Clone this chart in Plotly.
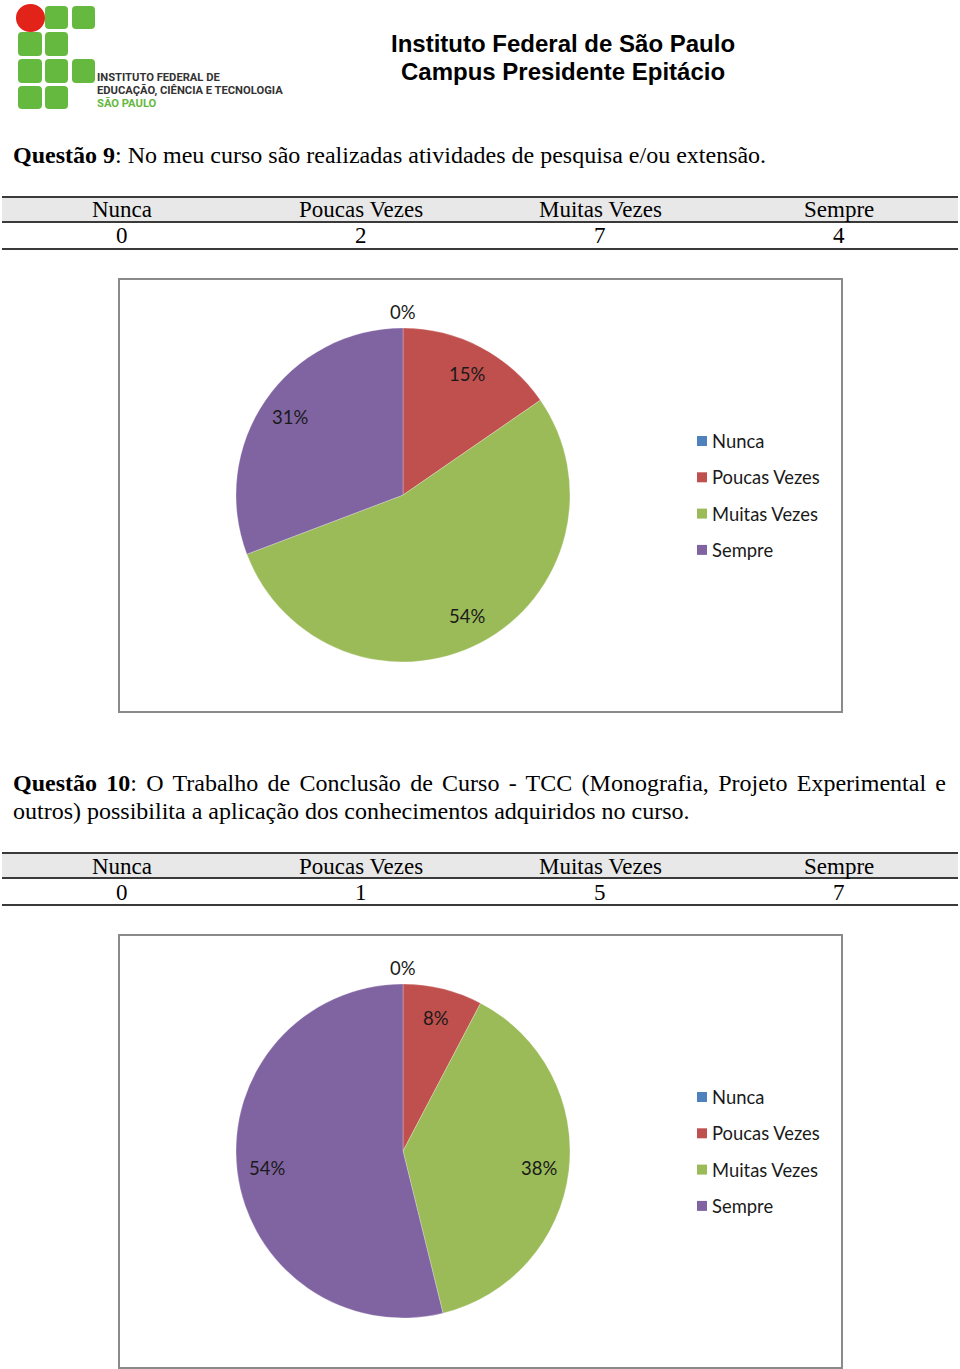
import math
import plotly.graph_objects as go

W, H = 960, 1369

# ---------------- data ----------------
categories = ["Nunca", "Poucas Vezes", "Muitas Vezes", "Sempre"]
q9_values = [0, 2, 7, 4]
q10_values = [0, 1, 5, 7]
slice_colors = ["#4F81BD", "#C0504D", "#9BBB59", "#8064A2"]

header_lines = ["Instituto Federal de São Paulo", "Campus Presidente Epitácio"]
logo_lines = ["INSTITUTO FEDERAL DE", "EDUCAÇÃO, CIÊNCIA E TECNOLOGIA", "SÃO PAULO"]
q9_text = "<b>Questão 9</b>: No meu curso são realizadas atividades de pesquisa e/ou extensão."
q10_lines = [
    "<b>Questão 10</b>: O Trabalho de Conclusão de Curso - TCC (Monografia, Projeto Experimental e",
    "outros) possibilita a aplicação dos conhecimentos adquiridos no curso.",
]


def X(px):
    return px / W


def Y(py):
    return 1 - py / H


SERIF = "Liberation Serif, Times New Roman, serif"
SANS = "Liberation Sans, Arial, sans-serif"
CAL = "Lato, Carlito, Calibri, sans-serif"

fig = go.Figure()
shapes = []
ann = []


def text(x, y, t, size, family, color="#000", xanchor="center", yanchor="middle"):
    ann.append(dict(x=X(x), y=Y(y), xref="paper", yref="paper", text=t, showarrow=False,
                    font=dict(size=size, family=family, color=color),
                    xanchor=xanchor, yanchor=yanchor, align="left"))


def rrect(x0, y0, x1, y1, r, color):
    rx, ry = r / W, r / H
    a0, b0, a1, b1 = X(x0), Y(y1), X(x1), Y(y0)
    p = (f"M{a0+rx},{b0} L{a1-rx},{b0} Q{a1},{b0} {a1},{b0+ry} L{a1},{b1-ry} "
         f"Q{a1},{b1} {a1-rx},{b1} L{a0+rx},{b1} Q{a0},{b1} {a0},{b1-ry} "
         f"L{a0},{b0+ry} Q{a0},{b0} {a0+rx},{b0} Z")
    shapes.append(dict(type="path", path=p, xref="paper", yref="paper",
                       fillcolor=color, line=dict(width=0)))


# ---------------- logo ----------------
GREEN = "#66B93F"
cols = [(18, 42), (45, 68), (72, 95)]
rows = [(6, 29), (32, 56), (59, 83), (86, 109)]
grid = [[0, 1, 1], [1, 1, 0], [1, 1, 1], [1, 1, 0]]
for ri, (y0, y1) in enumerate(rows):
    for ci, (x0, x1) in enumerate(cols):
        if grid[ri][ci]:
            rrect(x0, y0, x1, y1, 4, GREEN)
shapes.append(dict(type="circle", xref="paper", yref="paper",
                   x0=X(16), x1=X(45), y0=Y(32), y1=Y(4),
                   fillcolor="#E2231A", line=dict(width=0)))
text(95, 77, "<b>" + logo_lines[0] + "</b>", 11.2, "Roboto, sans-serif", "#333", xanchor="left")
text(95, 90, "<b>" + logo_lines[1] + "</b>", 11.2, "Roboto, sans-serif", "#333", xanchor="left")
text(95, 103, "<b>" + logo_lines[2] + "</b>", 11.2, "Roboto, sans-serif", GREEN, xanchor="left")

# ---------------- header ----------------
text(563, 44, "<b>" + header_lines[0] + "</b>", 24, SANS)
text(563, 72, "<b>" + header_lines[1] + "</b>", 24, SANS)

# ---------------- questions ----------------
text(11, 155, q9_text, 24, SERIF, xanchor="left")
text(11, 783, '<span style="word-spacing:3.3px">' + q10_lines[0] + "</span>", 24, SERIF,
     xanchor="left")
text(11, 811, q10_lines[1], 24, SERIF, xanchor="left")


# ---------------- tables ----------------
def table(top, values):
    shapes.append(dict(type="rect", xref="paper", yref="paper", x0=X(2), x1=X(958),
                       y0=Y(top + 25), y1=Y(top), fillcolor="#E8E8E8", line=dict(width=0),
                       layer="below"))
    for yy in (top, top + 25, top + 52):
        shapes.append(dict(type="line", xref="paper", yref="paper", x0=X(2), x1=X(958),
                           y0=Y(yy), y1=Y(yy), line=dict(color="#3a3a3a", width=2)))
    for i, (c, v) in enumerate(zip(categories, values)):
        cx = 122 + i * 239
        text(cx, top + 13, c, 23, SERIF)
        text(cx, top + 39, str(v), 23, SERIF)


table(197, q9_values)
table(853, q10_values)


# ---------------- charts ----------------
def chart(dy, values):
    shapes.append(dict(type="rect", xref="paper", yref="paper", x0=X(119), x1=X(842),
                       y0=Y(712 + dy), y1=Y(279 + dy), line=dict(color="#8a8a8a", width=2),
                       fillcolor="rgba(0,0,0,0)"))
    cx, cy, r = 403, 495 + dy, 167
    fig.add_trace(go.Pie(
        labels=categories, values=values, sort=False, direction="clockwise", rotation=0,
        marker=dict(colors=slice_colors, line=dict(color="rgba(255,255,255,0.5)", width=0.5)),
        textinfo="none",
        domain=dict(x=[X(cx - r), X(cx + r)], y=[Y(cy + r), Y(cy - r)]),
        showlegend=False, hoverinfo="label+percent",
    ))
    # data labels (Excel "best fit" style) placed from the slice angles
    total = sum(values)
    cum = 0
    for v in values:
        frac = v / total
        pct = f"{round(frac * 100):d}%"
        th = 2 * math.pi * (cum + frac / 2)
        k = 0.82 * r if v > 0 else r + 16
        text(cx + k * math.sin(th), cy - k * math.cos(th), pct, 18.5, CAL, "#1a1a1a")
        cum += frac
    # legend
    for i, (c, col) in enumerate(zip(categories, slice_colors)):
        ly = 441 + dy + i * 36.3
        shapes.append(dict(type="rect", xref="paper", yref="paper", x0=X(697), x1=X(707),
                           y0=Y(ly + 5), y1=Y(ly - 5), fillcolor=col, line=dict(width=0)))
        text(710, ly, c, 18.4, CAL, "#1a1a1a", xanchor="left")


chart(0, q9_values)
chart(656, q10_values)

fig.update_layout(
    width=W, height=H, margin=dict(l=0, r=0, t=0, b=0),
    paper_bgcolor="white", plot_bgcolor="white",
    shapes=shapes, annotations=ann, showlegend=False,
)

fig.write_html("out.html")
